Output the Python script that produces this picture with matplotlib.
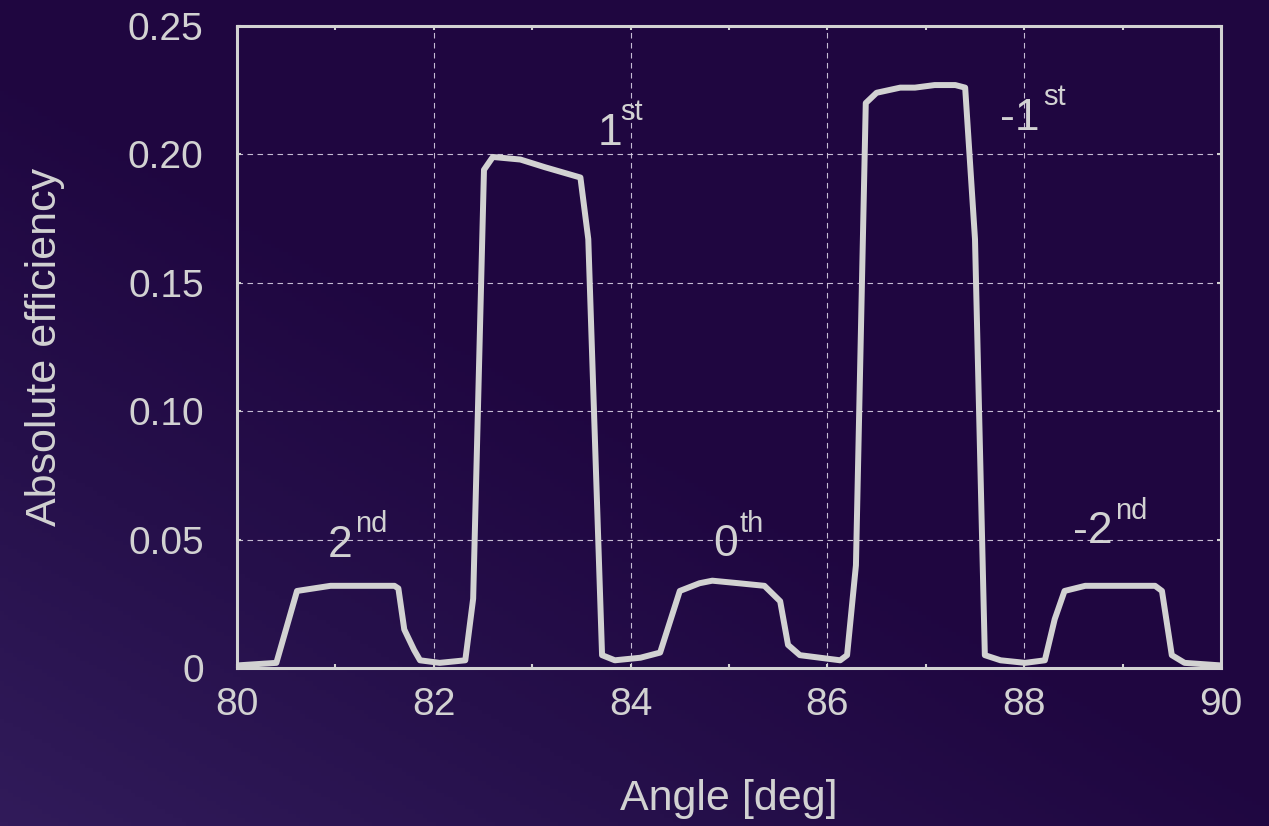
import numpy as np
import matplotlib
matplotlib.use('Agg')
import matplotlib.pyplot as plt
from matplotlib.colors import LinearSegmentedColormap

plt.rcParams['font.family'] = ['Liberation Sans', 'DejaVu Sans']

# data
angle = [80.0, 80.4, 80.61, 80.95, 81.25, 81.6, 81.64, 81.7, 81.8, 81.86,
         82.06, 82.32, 82.4, 82.51, 82.6, 82.88, 83.13, 83.49, 83.57, 83.71,
         83.84, 84.1, 84.3, 84.5, 84.7, 84.83, 85.1, 85.36, 85.52, 85.6,
         85.72, 86.13, 86.2, 86.29, 86.39, 86.5, 86.74, 86.89, 87.09, 87.3,
         87.4, 87.5, 87.6, 87.76, 88.01, 88.21, 88.31, 88.41, 88.62, 88.98,
         89.33, 89.4, 89.5, 89.63, 90.0]
efficiency = [0.001, 0.002, 0.030, 0.032, 0.032, 0.032, 0.031, 0.015, 0.007, 0.003,
              0.002, 0.003, 0.027, 0.194, 0.199, 0.198, 0.195, 0.191, 0.167, 0.005,
              0.003, 0.004, 0.006, 0.030, 0.033, 0.034, 0.033, 0.032, 0.026, 0.009,
              0.005, 0.003, 0.005, 0.040, 0.220, 0.224, 0.226, 0.226, 0.227, 0.227,
              0.226, 0.167, 0.005, 0.003, 0.002, 0.003, 0.019, 0.030, 0.032, 0.032,
              0.032, 0.030, 0.005, 0.002, 0.001]

x_ticks = [80, 82, 84, 86, 88, 90]
y_ticks = [0, 0.05, 0.10, 0.15, 0.20, 0.25]
y_tick_labels = ['0', '0.05', '0.10', '0.15', '0.20', '0.25']

order_main = ['2', '1', '0', '-1', '-2']
order_sup = ['nd', 'st', 'th', 'st', 'nd']
# (x, y) of main label, (x, y) of superscript, in data units
label_pos = [((80.92, 0.0432), (81.20, 0.053)),
             ((83.66, 0.2037), (83.89, 0.2134)),
             ((84.84, 0.0436), (85.11, 0.053)),
             ((87.75, 0.2095), (88.19, 0.2192)),
             ((88.50, 0.0487), (88.92, 0.058))]

FG = '#d2d2d2'

fig = plt.figure(figsize=(12.69, 8.26), dpi=100)

# gradient background, lighter towards the bottom-left corner
bg = fig.add_axes([0, 0, 1, 1], zorder=-10)
cmap = LinearSegmentedColormap.from_list('bg', ['#311b5a', '#26104b', '#1f0640'])
yy, xx = np.mgrid[0:1:200j, 0:1:300j]
grad = np.clip((xx * 1.4 + yy * 1.6) / 1.5, 0, 1)
bg.imshow(grad, cmap=cmap, origin='lower', extent=[0, 1, 0, 1], aspect='auto')
bg.axis('off')

ax = fig.add_axes([237 / 1269, 1 - 668 / 826, (1221 - 237) / 1269, (668 - 26) / 826])
ax.patch.set_alpha(0)

ax.plot(angle, efficiency, color=FG, linewidth=4.3, solid_joinstyle='round',
        solid_capstyle='round', zorder=3)

ax.set_xlim(80, 90)
ax.set_ylim(0, 0.25)
ax.set_xticks(x_ticks)
ax.set_xticks(np.arange(81, 90, 2), minor=True)
ax.set_yticks(y_ticks)
ax.set_yticklabels(y_tick_labels)

ax.grid(True, which='major', linestyle=(0, (5, 4)), linewidth=0.8, color='#d8d0e4', alpha=0.9)
ax.set_axisbelow(True)

for s in ax.spines.values():
    s.set_color(FG)
    s.set_linewidth(2.2)

ax.tick_params(which='both', direction='in', colors=FG, top=True, right=True,
               length=3, width=1.5, labelsize=28, pad=14)
ax.tick_params(axis='y', pad=24)

ax.set_xlabel('Angle [deg]', fontsize=31, color=FG, labelpad=40)
ax.set_ylabel('Absolute efficiency', fontsize=31, color=FG, labelpad=45)

for main, sup, (p_main, p_sup) in zip(order_main, order_sup, label_pos):
    ax.text(p_main[0], p_main[1], main, fontsize=32, color=FG, ha='left', va='baseline')
    ax.text(p_sup[0], p_sup[1], sup, fontsize=21, color=FG, ha='left', va='baseline')

fig.savefig('out.png', dpi=100)
